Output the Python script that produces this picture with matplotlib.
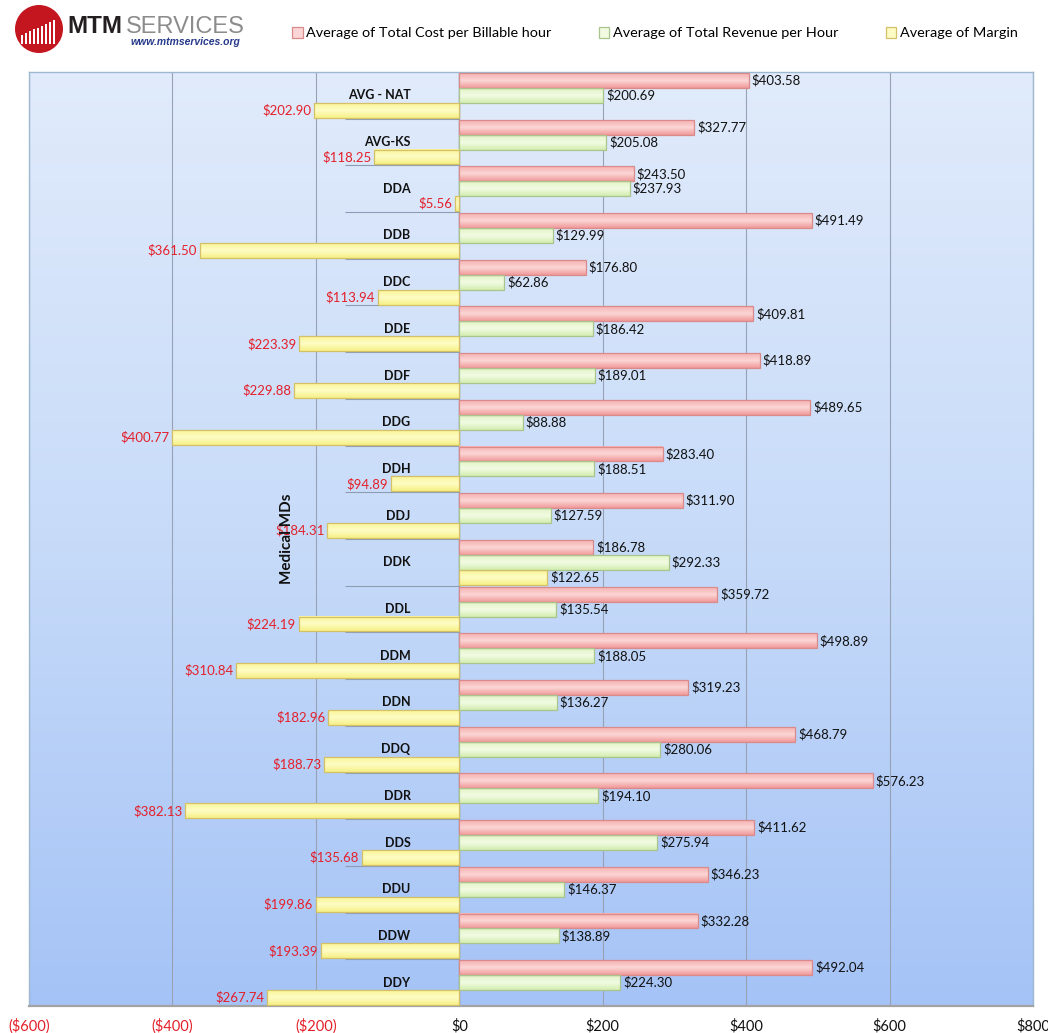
import numpy as np
import matplotlib.pyplot as plt
from matplotlib.patches import Circle, Rectangle
from matplotlib.colors import LinearSegmentedColormap

plt.rcParams['font.family'] = ['Liberation Sans Narrow', 'Lato', 'DejaVu Sans']

# data
categories = ['AVG - NAT', 'AVG-KS', 'DDA', 'DDB', 'DDC', 'DDE', 'DDF', 'DDG', 'DDH', 'DDJ',
              'DDK', 'DDL', 'DDM', 'DDN', 'DDQ', 'DDR', 'DDS', 'DDU', 'DDW', 'DDY']
cost = [403.58, 327.77, 243.50, 491.49, 176.80, 409.81, 418.89, 489.65, 283.40, 311.90,
        186.78, 359.72, 498.89, 319.23, 468.79, 576.23, 411.62, 346.23, 332.28, 492.04]
revenue = [200.69, 205.08, 237.93, 129.99, 62.86, 186.42, 189.01, 88.88, 188.51, 127.59,
           292.33, 135.54, 188.05, 136.27, 280.06, 194.10, 275.94, 146.37, 138.89, 224.30]
margin = [-202.90, -118.25, -5.56, -361.50, -113.94, -223.39, -229.88, -400.77, -94.89, -184.31,
          122.65, -224.19, -310.84, -182.96, -188.73, -382.13, -135.68, -199.86, -193.39, -267.74]
series_names = ['Average of Total Cost per Billable hour',
                'Average of Total Revenue per Hour',
                'Average of Margin']
group_label = 'Medical MDs'
x_ticks = [-600, -400, -200, 0, 200, 400, 600, 800]

# bar fills: (top, middle, bottom) shades + edge
styles = [
    (['#f6b1b1', '#fcd6d6', '#f19a9a'], '#d98a8a'),
    (['#e2f5c6', '#f2fbe2', '#d3edb0'], '#a9c48c'),
    (['#faf59a', '#fefcc4', '#f6f086'], '#d4c066'),
]
NEG_RED = '#e4202a'

W, H = 1048, 1033
fig = plt.figure(figsize=(W / 100, H / 100), dpi=100)
ax = fig.add_axes([29 / W, 1 - 1006 / H, (1033 - 29) / W, (1006 - 72) / H])

n = len(categories)
ypos = np.arange(n)
h = 0.32

# plot area background, light at top, deeper blue at bottom
bg = LinearSegmentedColormap.from_list('bg', ['#e1ebfb', '#c7dbf9', '#a5c3f6'])
ax.imshow(np.linspace(0, 1, 256).reshape(-1, 1), cmap=bg, aspect='auto',
          extent=(-600, 800, n - 0.5, -0.5), origin='upper', zorder=0)

for k, vals in enumerate([cost, revenue, margin]):
    shades, edge = styles[k]
    cmap = LinearSegmentedColormap.from_list('s%d' % k, shades)
    bars = ax.barh(ypos + (k - 1) * h, vals, height=h, facecolor='none',
                   edgecolor=edge, linewidth=0.9, zorder=4)
    for b, v in zip(bars, vals):
        x0, y0, bw, bh = b.get_x(), b.get_y(), b.get_width(), b.get_height()
        ax.imshow(np.linspace(0, 1, 32).reshape(-1, 1), cmap=cmap, aspect='auto',
                  extent=(x0, x0 + bw, y0 + bh, y0), origin='upper', zorder=3)
        yc = y0 + bh / 2
        if v >= 0:
            ax.annotate('${:,.2f}'.format(v), (v, yc), xytext=(2, 0), textcoords='offset points',
                        ha='left', va='center', fontsize=9.5, color='#111111', zorder=6)
        else:
            ax.annotate('${:,.2f}'.format(-v), (v, yc), xytext=(-2, 0), textcoords='offset points',
                        ha='right', va='center', fontsize=9.5, color=NEG_RED, zorder=6)

ax.set_xlim(-600, 800)
ax.set_ylim(n - 0.5, -0.5)

# category separators and labels on the left of the zero axis
ax.hlines(ypos[:-1] + 0.5, -159, 0, color='#8d9cb3', linewidth=0.8, zorder=2)
for y, c in zip(ypos, categories):
    ax.text(-68, y, c, ha='right', va='center', fontsize=9, fontweight='bold',
            color='#111111', zorder=5)
ax.text(-240, (n - 1) / 2, group_label, rotation=90, ha='center', va='center',
        fontsize=11, fontweight='bold', color='#111111', zorder=7)

ax.axvline(0, color='#8c96a6', linewidth=1.0, zorder=2.5)
ax.set_xticks(x_ticks)
ax.set_xticklabels(['(${:,})'.format(-t) if t < 0 else '${:,}'.format(t) for t in x_ticks],
                   fontsize=10.5)
for lbl, t in zip(ax.get_xticklabels(), x_ticks):
    lbl.set_color(NEG_RED if t < 0 else '#111111')
ax.tick_params(axis='x', length=0, pad=9)
ax.set_yticks([])
ax.grid(axis='x', color='#98a2b6', linewidth=0.8, zorder=1)
ax.set_axisbelow(True)
for s in ['top', 'right', 'left']:
    ax.spines[s].set_color('#9db8cf')
    ax.spines[s].set_linewidth(1.0)
ax.spines['bottom'].set_color('#a3a3a3')
ax.spines['bottom'].set_linewidth(1.6)

# legend across the top
handles = [Rectangle((0, 0), 1, 1, facecolor=styles[k][0][1], edgecolor=styles[k][1], linewidth=0.9)
           for k in range(3)]
fig.legend(handles, series_names, loc='center', bbox_to_anchor=(655 / W, 1 - 33 / H), ncol=3,
           frameon=False, fontsize=10.4, handlelength=0.7, handleheight=0.8, handletextpad=0.25,
           columnspacing=3.3, borderpad=0)

# logo
lax = fig.add_axes([0, 1 - 60 / H, 260 / W, 60 / H])
lax.set_xlim(0, 260)
lax.set_ylim(60, 0)
lax.axis('off')
circ = Circle((39, 29), 24, facecolor='#c4161f', edgecolor='none')
lax.add_patch(circ)
bar_x = np.arange(21, 57, 4)
bar_top = np.linspace(35, 20, len(bar_x))
for bx, bt in zip(bar_x, bar_top):
    r = Rectangle((bx, bt), 2.2, 44 - bt, facecolor='white', edgecolor='none')
    lax.add_patch(r)
    r.set_clip_path(circ)
lax.text(67, 33, 'MTM', fontsize=17.5, fontweight='bold', color='#231f20',
         family=['Liberation Sans', 'DejaVu Sans'], ha='left', va='baseline')
lax.text(126, 33, 'SERVICES', fontsize=17, color='#8c8c8c',
         family=['Liberation Sans', 'DejaVu Sans'], ha='left', va='baseline')
lax.text(240, 45, 'www.mtmservices.org', fontsize=7.5, fontweight='bold', style='italic',
         color='#26398a', family=['Liberation Sans', 'DejaVu Sans'], ha='right', va='baseline')

fig.savefig('out.png', dpi=100)
